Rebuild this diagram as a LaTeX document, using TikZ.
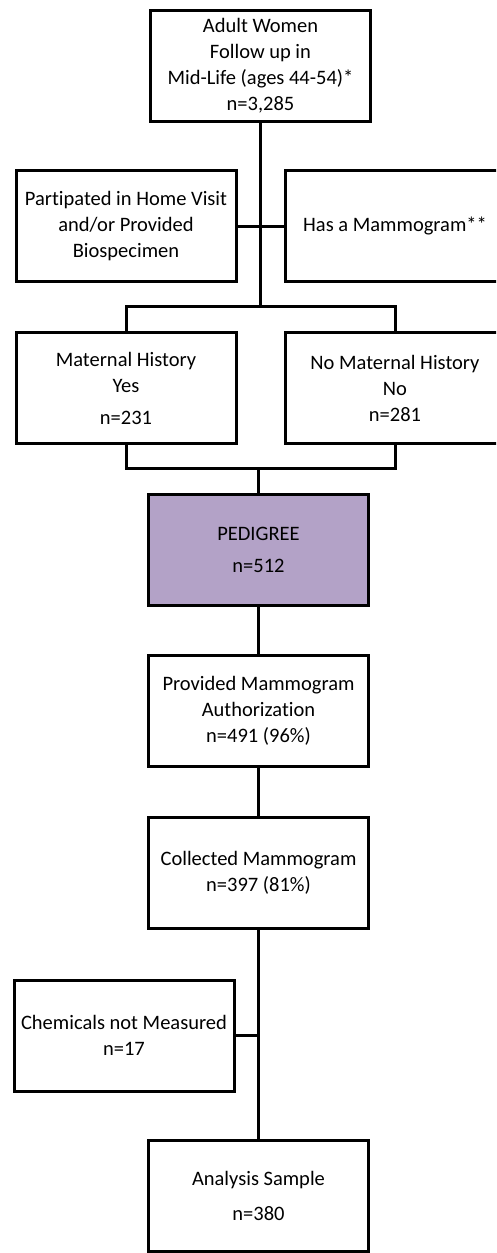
\documentclass[tikz,border=0pt]{standalone}
\usepackage{fontspec}
\setmainfont[Ligatures={NoCommon}]{Carlito}
\usetikzlibrary{calc}
\definecolor{pedpurple}{HTML}{B3A2C7}
\tikzset{
	flowbox/.style={draw=black, line width=3pt, fill=white, align=center, inner sep=0pt,
		minimum width=220pt, minimum height=111pt, font=\fontsize{20.5}{26}\selectfont},
	pedbox/.style={flowbox, fill=pedpurple},
	link/.style={line width=3pt},
	trunk/.style={line width=3.6pt},
}

\begin{document}
\begin{tikzpicture}[x=1pt, y=1pt]
			%%%%% START %%%%%
			
			\useasboundingbox (0, 0) rectangle (496, -1253);
			\clip (0, 0) rectangle (496, -1253);
			
			\node[flowbox] (women) at (260.5, -66) {Adult Women\\Follow up in\\Mid-Life (ages 44-54)*\\n=3,285};
			
			\node[flowbox] (visit) at (126, -226) {Partipated in Home Visit\\and/or Provided\\Biospecimen};
			\node[flowbox] (hasmammo) at (395, -226) {Has a Mammogram**};
			
			\node[flowbox] (mathist) at (126, -388) {Maternal History\\Yes\\[6pt]n=231};
			\node[flowbox] (nohist) at (395, -388) {No Maternal History\\No\\n=281};
			
			\node[pedbox] (pedigree) at (258.5, -549.5) {PEDIGREE\\[6pt]n=512};
			\node[flowbox] (authorize) at (258.5, -710.5) {Provided Mammogram\\Authorization\\n=491 (96\%)};
			\node[flowbox] (collected) at (258.5, -873) {Collected Mammogram\\n=397 (81\%)};
			
			\node[flowbox] (chemicals) at (124, -1035.5) {Chemicals not Measured\\n=17};
			\node[flowbox] (analysis) at (258.5, -1196) {Analysis Sample\\[9pt]n=380};
			
			\coordinate (split) at (260.5, -306);
			\coordinate (merge) at (258.5, -468);
			
			\draw[trunk] (women.south) -- (split);
			\draw[link] (visit.east) -- (hasmammo.west);
			\draw[link] (mathist.north) |- (split) -| (nohist.north);
			
			\draw[link] (mathist.south) |- (merge) -| (nohist.south);
			\draw[link] (merge) -- (pedigree.north);
			
			\draw[link] (pedigree.south) -- (authorize.north);
			\draw[link] (authorize.south) -- (collected.north);
			\draw[link] (collected.south) -- (analysis.north);
			\draw[link] (chemicals.east) -- (chemicals.east -| collected.south);
			
			%%%%% END %%%%%
\end{tikzpicture}
\end{document}
